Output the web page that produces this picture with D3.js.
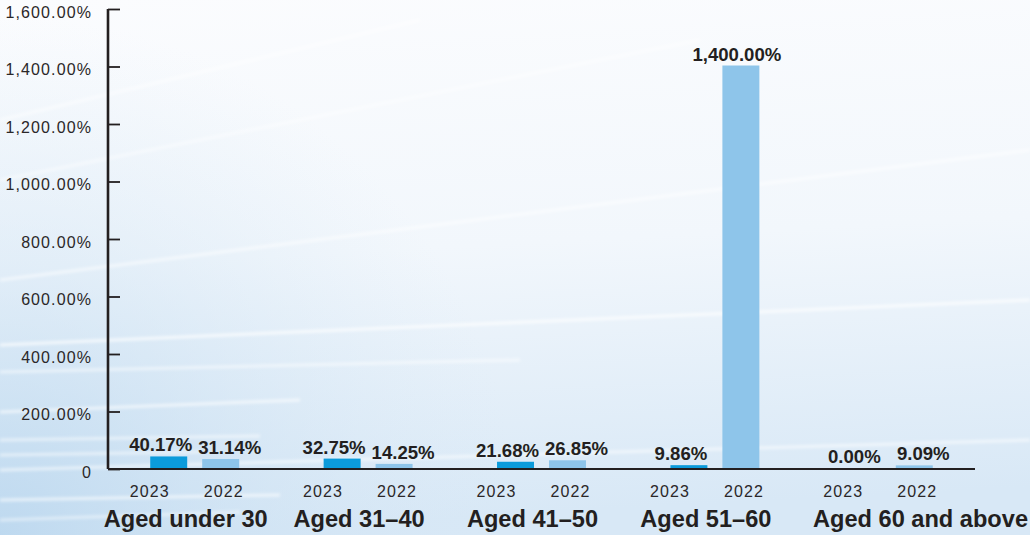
<!DOCTYPE html>
<html>
<head>
<meta charset="utf-8">
<script src="https://cdn.jsdelivr.net/npm/d3@7"></script>
<style>
  html, body { margin: 0; padding: 0; background: #f6f9fc; }
  svg { display: block; }
</style>
</head>
<body>
<svg id="chart" width="1030" height="535"></svg>
<script>
// Age groups and the two reporting years
const categories = ["Aged under 30", "Aged 31\u201340", "Aged 41\u201350", "Aged 51\u201360", "Aged 60 and above"];
const years = ["2023", "2022"];
const values2023 = [40.17, 32.75, 21.68, 9.86, 0.00];
const values2022 = [31.14, 14.25, 26.85, 1400.00, 9.09];
const yTicks = [0, 200, 400, 600, 800, 1000, 1200, 1400, 1600];

const W = 1030, H = 535;
const margin = { left: 108, right: 55, top: 9, bottom: 66 };
const ink = "#231f20";
const font = "Liberation Sans, Arial, Helvetica, sans-serif";
const colors = { "2023": "#0b9bdb", "2022": "#8ec5ea" };

const svg = d3.select("#chart");

// Soft blue backdrop with light streaks
const defs = svg.append("defs");
const bg = defs.append("linearGradient").attr("id", "bg").attr("x1", 0).attr("y1", 0).attr("x2", 0.1).attr("y2", 1);
bg.append("stop").attr("offset", "0%").attr("stop-color", "#fbfcfe");
bg.append("stop").attr("offset", "50%").attr("stop-color", "#f2f7fc");
bg.append("stop").attr("offset", "100%").attr("stop-color", "#d8e8f6");
const corner = defs.append("radialGradient").attr("id", "corner")
  .attr("gradientUnits", "userSpaceOnUse").attr("cx", 0).attr("cy", 535).attr("r", 520);
corner.append("stop").attr("offset", "0%").attr("stop-color", "#b9d6ee").attr("stop-opacity", 0.85);
corner.append("stop").attr("offset", "100%").attr("stop-color", "#d9e9f6").attr("stop-opacity", 0);
const blur = defs.append("filter").attr("id", "soft").attr("x", "-10%").attr("y", "-50%").attr("width", "120%").attr("height", "200%");
blur.append("feGaussianBlur").attr("stdDeviation", 1.4);

svg.append("rect").attr("width", W).attr("height", H).attr("fill", "url(#bg)");
svg.append("rect").attr("width", W).attr("height", H).attr("fill", "url(#corner)");

const streaks = [
  [0, 120, 420, 20, 0.5], [0, 180, 700, 40, 0.45], [0, 280, 1030, 150, 0.55],
  [0, 345, 1030, 300, 0.7], [0, 372, 520, 360, 0.5], [0, 470, 1030, 440, 0.55],
  [0, 412, 300, 400, 0.6], [0, 500, 280, 495, 0.6], [0, 440, 260, 436, 0.5],
  [0, 455, 200, 452, 0.5], [0, 520, 240, 512, 0.45]
];
svg.append("g").attr("filter", "url(#soft)")
  .selectAll("line").data(streaks).join("line")
  .attr("x1", d => d[0]).attr("y1", d => d[1]).attr("x2", d => d[2]).attr("y2", d => d[3])
  .attr("stroke", "#ffffff").attr("stroke-width", 3).attr("stroke-opacity", d => d[4]);

// Scales
const x0 = d3.scaleBand().domain(categories).range([margin.left, W - margin.right]).padding(0);
const x1 = d3.scaleBand().domain(years).range([0, x0.bandwidth()])
  .paddingInner(15 / 52).paddingOuter(42.25 / 52);
const y = d3.scaleLinear().domain([0, 1600]).range([H - margin.bottom, margin.top]);

const rows = categories.map((c, i) => ({ cat: c, bars: [
  { year: "2023", v: values2023[i] }, { year: "2022", v: values2022[i] }
] }));

// Y axis
const yAxis = d3.axisLeft(y).tickValues(yTicks).tickSize(-12).tickPadding(16)
  .tickFormat(d => d === 0 ? "0" : d3.format(",.2f")(d) + "%");
const gy = svg.append("g").attr("transform", `translate(${margin.left},0)`).call(yAxis);
gy.select(".domain").attr("stroke", ink).attr("stroke-width", 2.6).attr("d", `M0,${y(1600)}V${y(0)}`);
gy.selectAll(".tick line").attr("stroke", ink).attr("stroke-width", 1.8);
gy.selectAll(".tick text").attr("fill", "#2b2728").attr("font-family", font)
  .attr("font-size", 16).attr("letter-spacing", 1.1).attr("dy", "0.5em");

// Bars
const groups = svg.append("g").selectAll("g").data(rows).join("g")
  .attr("transform", d => `translate(${x0(d.cat)},0)`);
groups.selectAll("rect").data(d => d.bars).join("rect")
  .attr("x", d => x1(d.year)).attr("width", x1.bandwidth())
  .attr("y", d => y(d.v) - 1).attr("height", d => y(0) - y(d.v))
  .attr("fill", d => colors[d.year]);

// X axis baseline
svg.append("line").attr("x1", margin.left).attr("x2", W - margin.right)
  .attr("y1", y(0)).attr("y2", y(0)).attr("stroke", ink).attr("stroke-width", 2.2);

// Value labels
groups.selectAll("text.val").data(d => d.bars).join("text").attr("class", "val")
  .attr("x", d => x1(d.year) + x1.bandwidth() / 2 + (d.v >= 1000 ? -4 : d.year === "2023" ? -8 : 9))
  .attr("y", d => y(d.v) - 6)
  .attr("text-anchor", "middle").attr("fill", ink)
  .attr("font-family", font).attr("font-weight", "bold")
  .attr("font-size", 18.6)
  .text(d => d3.format(",.2f")(d.v) + "%");

// Year labels under each pair
groups.selectAll("text.yr").data(d => d.bars).join("text").attr("class", "yr")
  .attr("x", d => x0.bandwidth() / 2 + (d.year === "2023" ? -37 : 37) - 8)
  .attr("y", 497).attr("text-anchor", "middle").attr("fill", "#2b2728")
  .attr("font-family", font).attr("font-size", 16)
  .attr("letter-spacing", 1.1)
  .text(d => d.year);

// Category labels, nudged apart where they would collide;
// a label pushed past its slot is set flush with the right edge
const catText = svg.append("g").selectAll("text").data(categories).join("text")
  .attr("text-anchor", "start").attr("y", 527).attr("fill", ink)
  .attr("font-family", font).attr("font-weight", "bold")
  .attr("font-size", 23.6)
  .text(d => d);
let prevEnd = -Infinity;
catText.each(function (d, i) {
  const w = this.getComputedTextLength();
  let left = x0(d) + x0.bandwidth() / 2 - w / 2 - 9;
  if (left < prevEnd + 24) {
    left = i === categories.length - 1 ? W - w - 2 : prevEnd + 24;
  }
  d3.select(this).attr("x", left);
  prevEnd = left + w;
});
</script>
</body>
</html>
